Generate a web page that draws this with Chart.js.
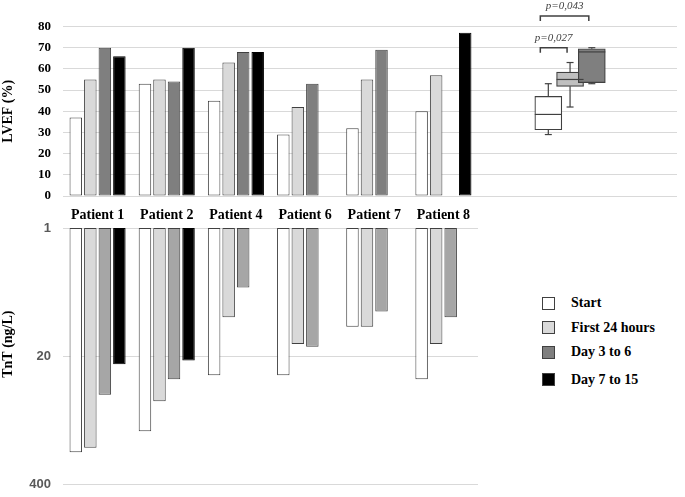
<!DOCTYPE html>
<html><head><meta charset="utf-8">
<script src="https://cdn.jsdelivr.net/npm/chart.js@4.4.0/dist/chart.umd.min.js"></script>
<style>
html,body{margin:0;padding:0;background:#fff}
#wrap{position:relative;width:685px;height:497px;overflow:hidden;background:#fff}
canvas{position:absolute}
#cLvef{left:0;top:0}
#cBox{left:474px;top:0}
#cTnt{left:0;top:205.5px}
#lg{position:absolute;left:542px;top:291px;font:bold 14px 'Liberation Serif','Times New Roman',serif;color:#000}
.lg-item{display:flex;align-items:center;height:24.5px}
.lg-item:last-child{margin-top:3px}
.lg-box{width:11px;height:11px;border:1px solid #404040;margin-right:16px}
</style></head><body>
<div id="wrap">
<canvas id="cLvef" width="480" height="228"></canvas>
<canvas id="cBox" width="211" height="220"></canvas>
<canvas id="cTnt" width="480" height="301"></canvas>
<div id="lg"></div>
</div>
<script>
// ── data ──
var patients=['Patient 1','Patient 2','Patient 4','Patient 6','Patient 7','Patient 8'];
var phases=['Start','First 24 hours','Day 3 to 6','Day 7 to 15'];
// LVEF (%)
var lvefStart=[37,53,45,29,32,40];
var lvef24h=[55,55,63,42,55,57];
var lvefD3=[70,54,68,53,69,null];
var lvefD7=[66,70,68,null,null,77];
// TnT (ng/L), log axis
var tntStart=[187,115,31,31,10,34];
var tnt24h=[169,57,8,15,10,15];
var tntD3=[49,34,4,16,7,8];
var tntD7=[24,22,null,null,null,null];
var tntTicks=[1,20,400];
// LVEF box plot per phase
var boxGroups=['Start','First 24 hours','Day 3 to 6'];
var boxMin=[29,42,53];
var boxQ1=[31.25,51.75,53.5];
var boxMed=[38.5,55,68];
var boxQ3=[47,58.5,69.5];
var boxMax=[53,63,70];
var pFrom=[0,0],pTo=[1,2],pLevel=[70,85],pLabel=['p=0,027','p=0,043'];

var topFill=['#ffffff','#d9d9d9','#7f7f7f','#000000'];
var lowFill=['#ffffff','#d9d9d9','#a6a6a6','#000000'];
var boxFill=['#ffffff','#bfbfbf','#7f7f7f'];

function G(id){return document.getElementById(id);}
Chart.defaults.font.family="'Liberation Serif','Times New Roman',serif";
Chart.defaults.font.weight='bold';
Chart.defaults.color='#000';
Chart.defaults.animation=false;

function ds(label,data,fill){
  return{label:label,data:data,backgroundColor:fill,borderColor:fill==='#000000'?'#000':'#404040',
    borderWidth:1,borderSkipped:false,categoryPercentage:.84,barPercentage:.86};
}

/* ── LVEF bars ── */
var cA=new Chart(G('cLvef'),{type:'bar',
  data:{labels:patients,datasets:[ds(phases[0],lvefStart,topFill[0]),ds(phases[1],lvef24h,topFill[1]),ds(phases[2],lvefD3,topFill[2]),ds(phases[3],lvefD7,topFill[3])]},
  options:{responsive:false,layout:{padding:{top:26.5,right:2,left:0,bottom:0}},
    plugins:{legend:{display:false},tooltip:{enabled:false}},
    scales:{
      x:{grid:{display:false},border:{display:false},ticks:{font:{size:14},padding:3},afterFit:function(s){s.height=32;}},
      y:{min:0,max:80,ticks:{stepSize:10,font:{size:13},padding:12},grid:{color:'#d9d9d9',drawTicks:false},border:{display:false},
        title:{display:true,text:'LVEF (%)',font:{size:14},padding:0},afterFit:function(s){s.width=63;}}
    }}});

/* ── box plot: whiskers, medians, p brackets ── */
var boxPlugin={id:'boxWhisk',afterDatasetsDraw:function(ch){
  var c=ch.ctx,x=ch.scales.x,y=ch.scales.y;
  function ln(a,b,d,e){c.beginPath();c.moveTo(a,b);c.lineTo(d,e);c.stroke();}
  c.save();c.strokeStyle='#404040';c.lineWidth=1.2;
  boxGroups.forEach(function(g,i){
    var cx=x.getPixelForValue(i),hw=13.5,cw=3.5;
    ln(cx,y.getPixelForValue(boxQ3[i]),cx,y.getPixelForValue(boxMax[i]));
    ln(cx,y.getPixelForValue(boxQ1[i]),cx,y.getPixelForValue(boxMin[i]));
    ln(cx-cw,y.getPixelForValue(boxMax[i]),cx+cw,y.getPixelForValue(boxMax[i]));
    ln(cx-cw,y.getPixelForValue(boxMin[i]),cx+cw,y.getPixelForValue(boxMin[i]));
    ln(cx-hw,y.getPixelForValue(boxMed[i]),cx+hw,y.getPixelForValue(boxMed[i]));
  });
  c.lineWidth=1.5;
  c.font="italic 11px 'Liberation Serif','Times New Roman',serif";
  c.fillStyle='#404040';c.textAlign='center';c.textBaseline='alphabetic';
  pLabel.forEach(function(t,k){
    var x1=x.getPixelForValue(pFrom[k])-8,x2=x.getPixelForValue(pTo[k])-3,yy=y.getPixelForValue(pLevel[k]);
    c.beginPath();c.moveTo(x1,yy+5);c.lineTo(x1,yy);c.lineTo(x2,yy);c.lineTo(x2,yy+5);c.stroke();
    c.fillText(t,(x1+x2)/2,yy-6.5);
  });
  c.restore();
}};
var cB=new Chart(G('cBox'),{type:'bar',
  data:{datasets:[{data:boxGroups.map(function(g,i){return{x:i,y:[boxQ1[i],boxQ3[i]]};}),
    backgroundColor:boxFill,borderColor:'#404040',borderWidth:1.2,borderSkipped:false,barThickness:27}]},
  options:{responsive:false,layout:{padding:{top:26.5,bottom:24,left:0,right:8}},
    plugins:{legend:{display:false},tooltip:{enabled:false}},
    scales:{
      x:{type:'linear',min:-2.25,max:4.75,display:false},
      y:{min:0,max:80,ticks:{display:false,stepSize:10},grid:{color:'#d9d9d9',drawTicks:false},border:{display:false},afterFit:function(s){s.width=0;}}
    }},
  plugins:[boxPlugin]});

/* ── TnT bars (log, hanging) ── */
var cC=new Chart(G('cTnt'),{type:'bar',
  data:{labels:patients,datasets:[ds(phases[0],tntStart,lowFill[0]),ds(phases[1],tnt24h,lowFill[1]),ds(phases[2],tntD3,lowFill[2]),ds(phases[3],tntD7,lowFill[3])]},
  options:{responsive:false,layout:{padding:{top:22,bottom:22.2,right:2,left:0}},
    plugins:{legend:{display:false},tooltip:{enabled:false}},
    scales:{
      x:{display:false},
      y:{type:'logarithmic',reverse:true,min:1,max:400,
        afterBuildTicks:function(s){s.ticks=tntTicks.map(function(v){return{value:v};});},
        ticks:{font:{family:"'Liberation Sans',Arial,sans-serif",size:13},color:'#595959',padding:12,callback:function(v){return String(v);}},
        grid:{color:'#d9d9d9',drawTicks:false},border:{display:false},
        title:{display:true,text:'       TnT (ng/L)',font:{size:14},padding:0},afterFit:function(s){s.width=63;}}
    }}});

/* ── legend (from LVEF chart) ── */
var items=Chart.defaults.plugins.legend.labels.generateLabels(cA);
G('lg').innerHTML=items.map(function(l){
  return'<div class="lg-item"><div class="lg-box" style="background:'+l.fillStyle+'"></div><span>'+l.text+'</span></div>';
}).join('');
</script>
</body></html>
